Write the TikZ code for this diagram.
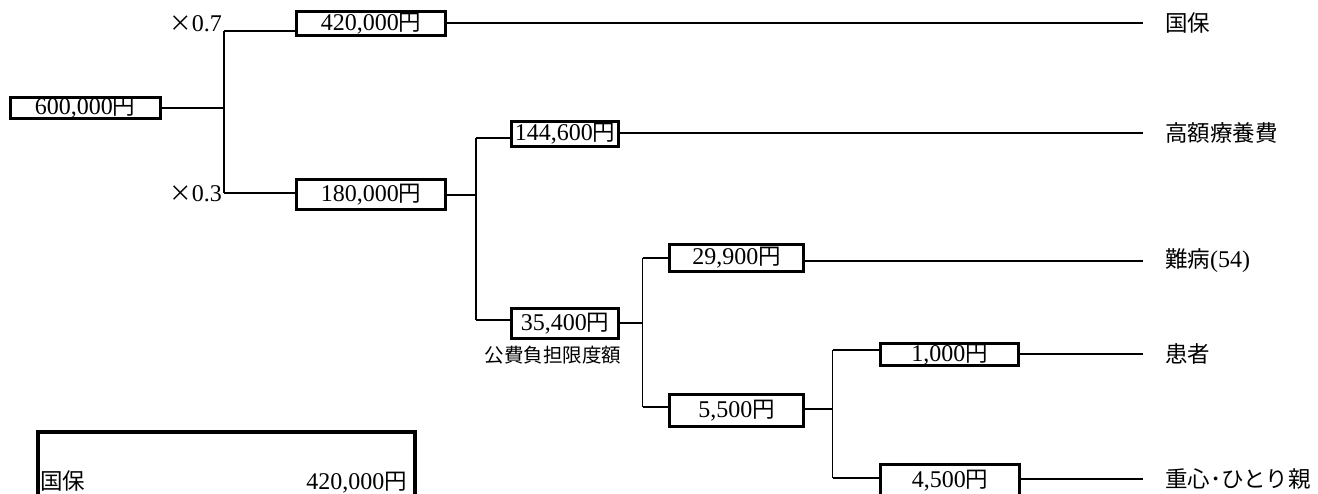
\documentclass[tikz,border=0pt]{standalone}
\usepackage{fontspec}
\setmainfont{Liberation Serif}
\newfontfamily\jp{Noto Sans CJK JP}
\usetikzlibrary{positioning}
\newcommand{\jpy}{{\jp\fontsize{22.5}{26}\selectfont 円}}
\newcommand{\jptext}[1]{{\jp\fontsize{22.5}{26}\selectfont #1}}

\begin{document}
\begin{tikzpicture}[x=1pt, y=-1pt, every node/.style={font=\fontsize{24}{28}\selectfont, inner sep=0pt}]
  \tikzstyle{box}=[draw, line width=3pt, align=center]
  \tikzstyle{link}=[line width=1.6pt]
  \tikzstyle{tag}=[anchor=west]
  \useasboundingbox (0,0) rectangle (1318,493);
  \clip (0,0) rectangle (1318,493);

  \node[box, minimum width=150pt, minimum height=20pt] (total) at (85,108) {600,000\jpy};
  \node[box, minimum width=149pt, minimum height=24pt] (kokuho) at (371,23.5) {420,000\jpy};
  \node[box, minimum width=149pt, minimum height=30pt] (self) at (371,194.5) {180,000\jpy};
  \node[box, minimum width=107pt, minimum height=25pt] (kogaku) at (565,134) {144,600\jpy};
  \node[box, minimum width=107pt, minimum height=30pt] (limit) at (565,323.5) {35,400\jpy};
  \node[box, minimum width=134pt, minimum height=27pt] (nanbyo) at (736.5,258) {29,900\jpy};
  \node[box, minimum width=134pt, minimum height=32pt] (rest) at (736.5,410.5) {5,500\jpy};
  \node[box, minimum width=138pt, minimum height=22pt] (patient) at (949.5,354.5) {1,000\jpy};
  \node[box, minimum width=139pt, minimum height=32pt] (juushin) at (950,480.5) {4,500\jpy};
  \node[font=\jp\fontsize{19.5}{22}\selectfont] (limitlbl) at (553,355) {公費負担限度額};

  \node[anchor=base east] (r07) at (222,31) {\jptext{×}0.7};
  \node[anchor=east] (r03) at (222,194) {\jptext{×}0.3};

  \coordinate (s1) at (224,108);
  \coordinate (s1a) at (224,31);
  \coordinate (s1b) at (224,193);
  \draw[link] (total) -- (s1);
  \draw[link] (s1a) -- (s1b);
  \draw[link] (s1a) -- (s1a -| kokuho.west);
  \draw[link] (s1b) -- (s1b -| self.west);

  \coordinate (s2) at (476,195);
  \coordinate (s2a) at (476,138);
  \coordinate (s2b) at (476,320);
  \draw[link] (self.east |- s2) -- (s2);
  \draw[link] (s2a) -- (s2b);
  \draw[link] (s2a) -- (s2a -| kogaku.west);
  \draw[link] (s2b) -- (s2b -| limit.west);

  \coordinate (s3) at (642.5,323);
  \coordinate (s3a) at (642.5,258);
  \coordinate (s3b) at (642.5,407);
  \draw[link] (limit.east |- s3) -- (s3);
  \draw[link] (s3a) -- (s3b);
  \draw[link] (s3a) -- (s3a -| nanbyo.west);
  \draw[link] (s3b) -- (s3b -| rest.west);

  \coordinate (s4) at (832.5,409);
  \coordinate (s4a) at (832.5,350);
  \coordinate (s4b) at (832.5,478);
  \draw[link] (rest.east |- s4) -- (s4);
  \draw[link] (s4a) -- (s4b);
  \draw[link] (s4a) -- (s4a -| patient.west);
  \draw[link] (s4b) -- (s4b -| juushin.west);

  \coordinate (e1) at (1143,23);
  \coordinate (e2) at (1143,133);
  \coordinate (e3) at (1143,261);
  \coordinate (e4) at (1143,354);
  \coordinate (e5) at (1143,479);
  \node[tag, right=22pt of e1] (t1) {\jptext{国保}};
  \node[tag, right=22pt of e2] (t2) {\jptext{高額療養費}};
  \node[tag, right=22pt of e3] (t3) {\jptext{難病}(54)};
  \node[tag, right=22pt of e4] (t4) {\jptext{患者}};
  \node[tag, right=22pt of e5] (t5) {\jptext{重心･ひとり親}};
  \draw[link] (kokuho.east |- e1) -- (e1);
  \draw[link] (kogaku.east |- e2) -- (e2);
  \draw[link] (nanbyo.east |- e3) -- (e3);
  \draw[link] (patient.east |- e4) -- (e4);
  \draw[link] (juushin.east |- e5) -- (e5);

  \node[draw, line width=4pt, minimum width=377pt, minimum height=120pt, anchor=north west] (sum) at (36,430) {};
  \node[anchor=base west] (sumname) at ([shift={(4pt,-59pt)}]sum.north west) {\jptext{国保}};
  \node[anchor=base east] (sumvalue) at ([shift={(-10pt,-59pt)}]sum.north east) {420,000\jpy};
\end{tikzpicture}
\end{document}
